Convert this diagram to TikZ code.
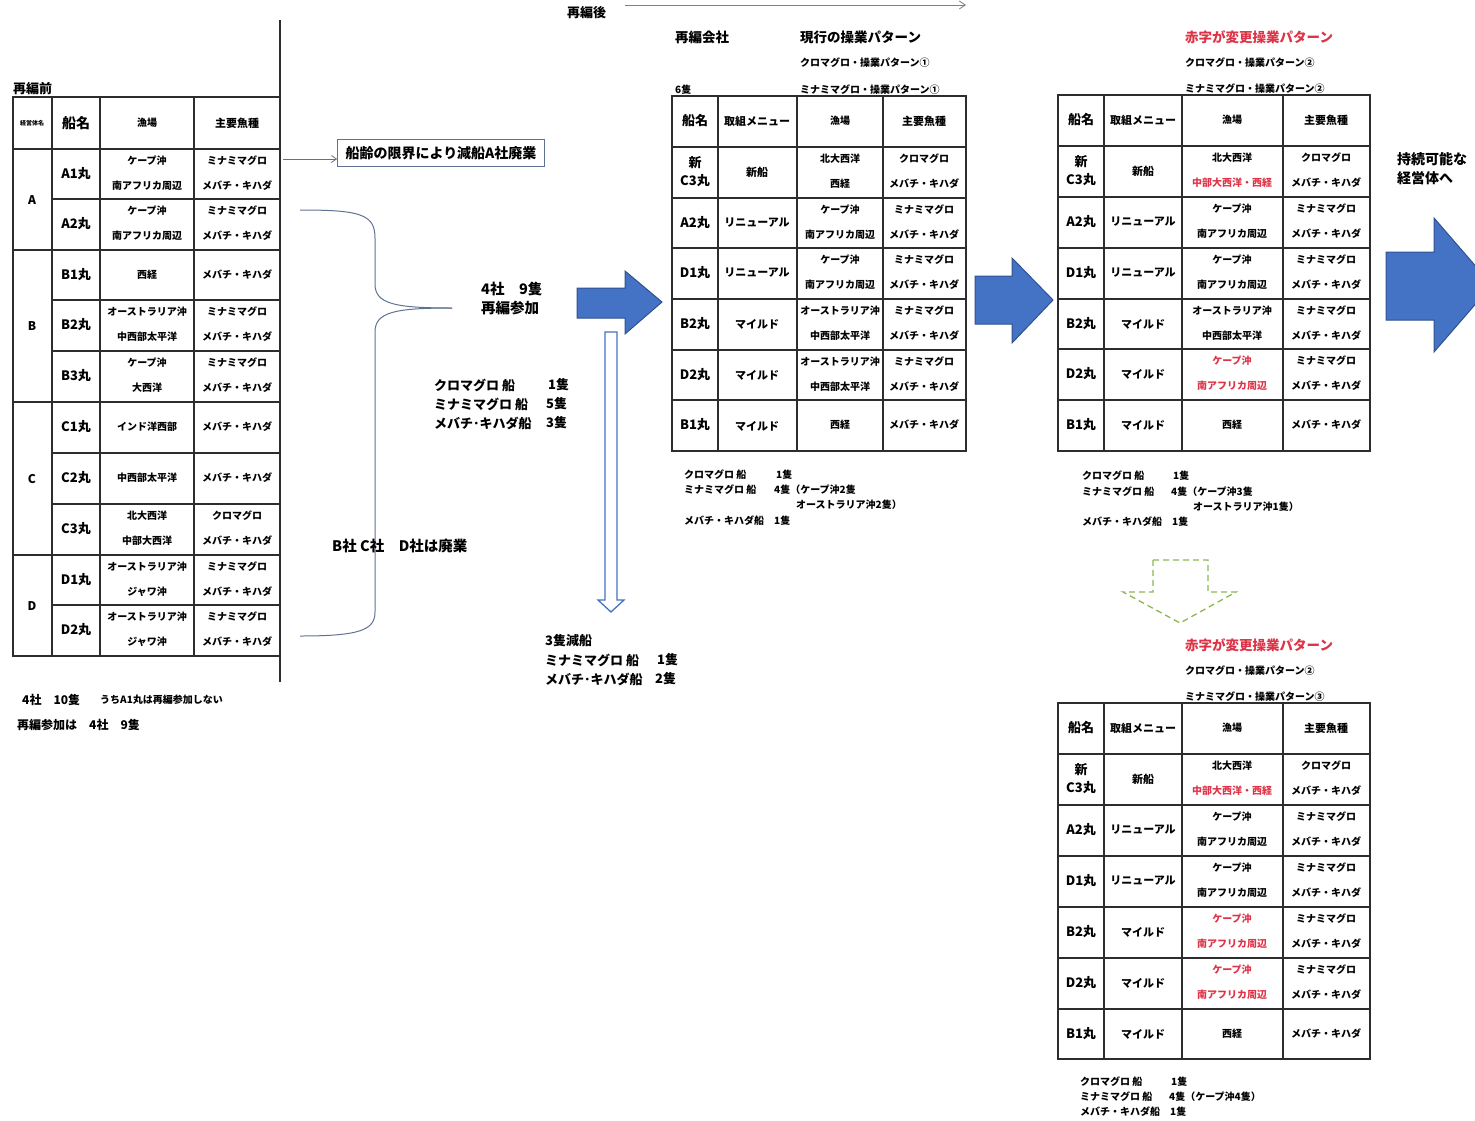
\documentclass[tikz,border=0pt]{standalone}
\usepackage{fontspec}
\setmainfont{Noto Sans CJK JP}
\usetikzlibrary{arrows.meta}
\definecolor{jred}{RGB}{222,52,72}
\definecolor{lnc}{RGB}{45,45,45}
\definecolor{brc}{RGB}{95,115,145}
\definecolor{bfill}{RGB}{68,114,196}
\definecolor{bdraw}{RGB}{47,82,143}
\definecolor{grn}{RGB}{140,182,82}
\newcommand\fs[1]{\fontsize{#1}{#1}\selectfont\bfseries}
\tikzset{
  gridln/.style={draw=lnc, line width=1.3pt},
  cell/.style={font=\fs{10}, inner sep=0pt},
  shipn/.style={font=\fontsize{13}{18}\selectfont\bfseries, inner sep=0pt, align=center},
  menu/.style={font=\fs{11}, inner sep=0pt},
  note/.style={font=\fs{10}, inner sep=0pt, anchor=west},
  ttl/.style={font=\fs{13.5}, inner sep=0pt, anchor=west},
  sub/.style={font=\fs{10}, inner sep=0pt, anchor=west},
  mid/.style={font=\fs{13}, inner sep=0pt, anchor=west},
  big/.style={font=\fs{14.5}, inner sep=0pt, anchor=west},
  blk/.style={fill=bfill, draw=bdraw, line width=1pt},
}
\newcommand\rowtwo[9]{%
  \node[shipn] (#1n) at (#3,#2+25) {#6};
  \node[cell] (#1ga) at (#4,#2+12) {#7};
  \node[cell] (#1gb) at (#4,#2+37) {#8};
  \node[cell] (#1fa) at (#5,#2+12) {#9};
  \node[cell] (#1fb) at (#5,#2+37) {メバチ・キハダ};}
\newcommand\rowone[7]{%
  \node[shipn] (#1n) at (#3,#2+25) {#6};
  \node[cell] (#1g) at (#4,#2+25) {#7};
  \node[cell] (#1f) at (#5,#2+25) {メバチ・キハダ};}
\newcommand\hdrrow[5]{%
  \node[font=\fs{13}, inner sep=0pt] (#1a) at (#3,#2+25) {船名};
  \node[font=\fs{11}, inner sep=0pt] (#1b) at (#4,#2+25) {取組メニュー};
  \node[font=\fs{10}, inner sep=0pt] (#1c) at (#5,#2+25) {漁場};}
\begin{document}
\begin{tikzpicture}[x=1pt,y=-1pt]
\useasboundingbox (0,0) rectangle (1475,1120);

% ================= left table =================
\node[font=\fs{13}, inner sep=0pt, anchor=west] (mae) at (13,89) {再編前};
\draw[gridln] (13,97) rectangle (280,656);
\foreach \x in {52,100,194} \draw[gridln] (\x,97) -- (\x,656);
\foreach \y in {149,250,402,555} \draw[gridln] (13,\y) -- (280,\y);
\foreach \y in {199,300,351,453,504,605} \draw[gridln] (52,\y) -- (280,\y);
\draw[gridln] (280,20) -- (280,682);

\node[font=\fs{6}, inner sep=0pt] (Lh0) at (32,123) {経営体名};
\node[font=\fs{14}, inner sep=0pt] (Lh1) at (76,123) {船名};
\node[font=\fs{10}, inner sep=0pt] (Lh2) at (147,123) {漁場};
\node[font=\fs{11}, inner sep=0pt] (Lh3) at (237,123) {主要魚種};

\node[font=\fs{12}, inner sep=0pt] (cA) at (32,200) {A};
\node[font=\fs{12}, inner sep=0pt] (cB) at (32,326) {B};
\node[font=\fs{12}, inner sep=0pt] (cC) at (32,479) {C};
\node[font=\fs{12}, inner sep=0pt] (cD) at (32,606) {D};

\rowtwo{LA1}{149}{76}{147}{237}{A1丸}{ケープ沖}{南アフリカ周辺}{ミナミマグロ}
\rowtwo{LA2}{199}{76}{147}{237}{A2丸}{ケープ沖}{南アフリカ周辺}{ミナミマグロ}
\rowone{LB1}{250}{76}{147}{237}{B1丸}{西経}
\rowtwo{LB2}{300}{76}{147}{237}{B2丸}{オーストラリア沖}{中西部太平洋}{ミナミマグロ}
\rowtwo{LB3}{351}{76}{147}{237}{B3丸}{ケープ沖}{大西洋}{ミナミマグロ}
\rowone{LC1}{402}{76}{147}{237}{C1丸}{インド洋西部}
\rowone{LC2}{453}{76}{147}{237}{C2丸}{中西部太平洋}
\rowtwo{LC3}{504}{76}{147}{237}{C3丸}{北大西洋}{中部大西洋}{クロマグロ}
\rowtwo{LD1}{555}{76}{147}{237}{D1丸}{オーストラリア沖}{ジャワ沖}{ミナミマグロ}
\rowtwo{LD2}{605}{76}{147}{237}{D2丸}{オーストラリア沖}{ジャワ沖}{ミナミマグロ}

\node[font=\fs{12}, inner sep=0pt, anchor=west] (lb1) at (22,700) {4社　10隻};
\node[font=\fs{10}, inner sep=0pt, anchor=west] (lb2) at (100,700) {うちA1丸は再編参加しない};
\node[font=\fs{12}, inner sep=0pt, anchor=west] (lb3) at (17,725) {再編参加は　4社　9隻};

% ================= middle connectors =================
\node[draw=brc, line width=0.8pt, font=\fs{14}, inner xsep=8pt, minimum height=27pt] (abox) at (441,153) {船齢の限界により減船A社廃業};
\coordinate (asrc) at (283,159);
\draw[brc, line width=0.8pt, -{Straight Barb[length=5pt,width=7pt]}] (asrc) -- (asrc -| abox.west);

\coordinate (brTop) at (300,210);
\coordinate (brTip) at (452,308);
\coordinate (brBot) at (300,636);
\draw[brc, line width=1pt] (brTop) .. controls (360,210) and (375,214) .. (375,238)
  -- (375,284) .. controls (375,304) and (395,308) .. (brTip);
\draw[brc, line width=1pt] (brTip) .. controls (395,308) and (375,312) .. (375,332)
  -- (375,612) .. controls (375,630) and (360,636) .. (brBot);

\node[big] (m1) at (481,289) {4社　9隻};
\node[big] (m2) at (481,308) {再編参加};

\node[mid] (m3) at (434,385) {クロマグロ 船};
\node[mid] (m4) at (434,404) {ミナミマグロ 船};
\node[mid] (m5) at (434,423) {メバチ･キハダ船};
\node[mid] (m3c) at (548,385) {1隻};
\node[mid] (m4c) at (546,404) {5隻};
\node[mid] (m5c) at (546,423) {3隻};

\node[big] (m6) at (332,546) {B社 C社　D社は廃業};

\draw[blk] (577,288) -- (625,288) -- (625,271) -- (662,302) -- (625,334) -- (625,318) -- (577,318) -- cycle;

\draw[draw=bfill, fill=white, line width=1.3pt] (605,332) -- (617,332) -- (617,600) -- (624,600) -- (611,612) -- (598,600) -- (605,600) -- cycle;

\node[mid] (m7) at (545,641) {3隻減船};
\node[mid] (m8) at (545,660) {ミナミマグロ 船};
\node[mid] (m9) at (545,679) {メバチ･キハダ船};
\node[mid] (m8c) at (657,660) {1隻};
\node[mid] (m9c) at (655,679) {2隻};

% ================= top header =================
\node[font=\fs{13}, inner sep=0pt, anchor=west] (ato) at (567,13) {再編後};
\coordinate (tA) at (625,5);
\coordinate (tB) at (966,5);
\draw[gray, line width=0.8pt, -{Straight Barb[length=6pt,width=8pt]}] (tA) -- (tB);

\node[ttl] (t1) at (675,37) {再編会社};
\node[ttl] (t2) at (800,37) {現行の操業パターン};
\node[sub] (t3) at (800,63) {クロマグロ・操業パターン①};
\node[sub] (t4) at (675,90) {6隻};
\node[sub] (t5) at (800,90) {ミナミマグロ・操業パターン①};

% ================= middle table =================
\draw[gridln] (672,96) rectangle (966,451);
\foreach \x in {718,797,883} \draw[gridln] (\x,96) -- (\x,451);
\foreach \y in {147,198,248,299,350,400} \draw[gridln] (672,\y) -- (966,\y);
\hdrrow{MH}{96}{695}{757}{840}
\node[font=\fs{11}, inner sep=0pt] (MHd) at (924,121) {主要魚種};
\rowtwo{M1}{147}{695}{840}{924}{新\\C3丸}{北大西洋}{西経}{クロマグロ}
\rowtwo{M2}{198}{695}{840}{924}{A2丸}{ケープ沖}{南アフリカ周辺}{ミナミマグロ}
\rowtwo{M3}{248}{695}{840}{924}{D1丸}{ケープ沖}{南アフリカ周辺}{ミナミマグロ}
\rowtwo{M4}{299}{695}{840}{924}{B2丸}{オーストラリア沖}{中西部太平洋}{ミナミマグロ}
\rowtwo{M5}{350}{695}{840}{924}{D2丸}{オーストラリア沖}{中西部太平洋}{ミナミマグロ}
\rowone{M6}{400}{695}{840}{924}{B1丸}{西経}
\node[menu] (M1m) at (757,172) {新船};
\node[menu] (M2m) at (757,223) {リニューアル};
\node[menu] (M3m) at (757,273) {リニューアル};
\node[menu] (M4m) at (757,324) {マイルド};
\node[menu] (M5m) at (757,375) {マイルド};
\node[menu] (M6m) at (757,426) {マイルド};

\node[note] (n1) at (684,475) {クロマグロ 船};
\node[note] (n1c) at (776,475) {1隻};
\node[note] (n2) at (684,490) {ミナミマグロ 船};
\node[note] (n2c) at (774,490) {4隻（ケープ沖2隻};
\node[note] (n3) at (796,505) {オーストラリア沖2隻）};
\node[note] (n4) at (684,521) {メバチ・キハダ船　1隻};

\draw[blk] (975,276) -- (1012,276) -- (1012,258) -- (1053,300) -- (1012,343) -- (1012,324) -- (975,324) -- cycle;

% ================= right header & table =================
\node[ttl, text=jred] (r1) at (1185,37) {赤字が変更操業パターン};
\node[sub] (r2) at (1185,63) {クロマグロ・操業パターン②};
\node[sub] (r3) at (1185,89) {ミナミマグロ・操業パターン②};

\draw[gridln] (1058,95) rectangle (1370,451);
\foreach \x in {1104,1182,1283} \draw[gridln] (\x,95) -- (\x,451);
\foreach \y in {146,197,248,299,349,400} \draw[gridln] (1058,\y) -- (1370,\y);
\hdrrow{RH}{95}{1081}{1143}{1232}
\node[font=\fs{11}, inner sep=0pt] (RHd) at (1326,120) {主要魚種};
\rowtwo{R1}{146}{1081}{1232}{1326}{新\\C3丸}{北大西洋}{\color{jred}中部大西洋・西経}{クロマグロ}
\rowtwo{R2}{197}{1081}{1232}{1326}{A2丸}{ケープ沖}{南アフリカ周辺}{ミナミマグロ}
\rowtwo{R3}{248}{1081}{1232}{1326}{D1丸}{ケープ沖}{南アフリカ周辺}{ミナミマグロ}
\rowtwo{R4}{299}{1081}{1232}{1326}{B2丸}{オーストラリア沖}{中西部太平洋}{ミナミマグロ}
\rowtwo{R5}{349}{1081}{1232}{1326}{D2丸}{\color{jred}ケープ沖}{\color{jred}南アフリカ周辺}{ミナミマグロ}
\rowone{R6}{400}{1081}{1232}{1326}{B1丸}{西経}
\node[menu] (R1m) at (1143,171) {新船};
\node[menu] (R2m) at (1143,222) {リニューアル};
\node[menu] (R3m) at (1143,273) {リニューアル};
\node[menu] (R4m) at (1143,324) {マイルド};
\node[menu] (R5m) at (1143,374) {マイルド};
\node[menu] (R6m) at (1143,425) {マイルド};

\node[note] (q1) at (1082,476) {クロマグロ 船};
\node[note] (q1c) at (1173,476) {1隻};
\node[note] (q2) at (1082,492) {ミナミマグロ 船};
\node[note] (q2c) at (1171,492) {4隻（ケープ沖3隻};
\node[note] (q3) at (1193,507) {オーストラリア沖1隻）};
\node[note] (q4) at (1082,522) {メバチ・キハダ船　1隻};

\draw[grn, line width=1.3pt, dash pattern=on 6pt off 4pt] (1153,560) -- (1208,560) -- (1208,592) -- (1236,592) -- (1180,623) -- (1123,592) -- (1153,592) -- cycle;

% ================= bottom table =================
\node[ttl, text=jred] (s1) at (1185,645) {赤字が変更操業パターン};
\node[sub] (s2) at (1185,671) {クロマグロ・操業パターン②};
\node[sub] (s3) at (1185,697) {ミナミマグロ・操業パターン③};

\draw[gridln] (1058,703) rectangle (1370,1059);
\foreach \x in {1104,1182,1283} \draw[gridln] (\x,703) -- (\x,1059);
\foreach \y in {754,805,856,907,958,1009} \draw[gridln] (1058,\y) -- (1370,\y);
\hdrrow{BH}{703}{1081}{1143}{1232}
\node[font=\fs{11}, inner sep=0pt] (BHd) at (1326,728) {主要魚種};
\rowtwo{B1}{754}{1081}{1232}{1326}{新\\C3丸}{北大西洋}{\color{jred}中部大西洋・西経}{クロマグロ}
\rowtwo{B2}{805}{1081}{1232}{1326}{A2丸}{ケープ沖}{南アフリカ周辺}{ミナミマグロ}
\rowtwo{B3}{856}{1081}{1232}{1326}{D1丸}{ケープ沖}{南アフリカ周辺}{ミナミマグロ}
\rowtwo{B4}{907}{1081}{1232}{1326}{B2丸}{\color{jred}ケープ沖}{\color{jred}南アフリカ周辺}{ミナミマグロ}
\rowtwo{B5}{958}{1081}{1232}{1326}{D2丸}{\color{jred}ケープ沖}{\color{jred}南アフリカ周辺}{ミナミマグロ}
\rowone{B6}{1009}{1081}{1232}{1326}{B1丸}{西経}
\node[menu] (B1m) at (1143,779) {新船};
\node[menu] (B2m) at (1143,830) {リニューアル};
\node[menu] (B3m) at (1143,881) {リニューアル};
\node[menu] (B4m) at (1143,932) {マイルド};
\node[menu] (B5m) at (1143,983) {マイルド};
\node[menu] (B6m) at (1143,1034) {マイルド};

\node[note] (p1) at (1080,1082) {クロマグロ 船};
\node[note] (p1c) at (1171,1082) {1隻};
\node[note] (p2) at (1080,1097) {ミナミマグロ 船};
\node[note] (p2c) at (1169,1097) {4隻（ケープ沖4隻）};
\node[note] (p3) at (1080,1112) {メバチ・キハダ船　1隻};

% ================= right arrow =================
\node[font=\fs{14}, inner sep=0pt, anchor=west] (e1) at (1397,159) {持続可能な};
\node[font=\fs{14}, inner sep=0pt, anchor=west] (e2) at (1397,178) {経営体へ};
\draw[blk] (1386,252) -- (1434,252) -- (1434,218) -- (1492,285) -- (1434,352) -- (1434,320) -- (1386,320) -- cycle;
\end{tikzpicture}
\end{document}
